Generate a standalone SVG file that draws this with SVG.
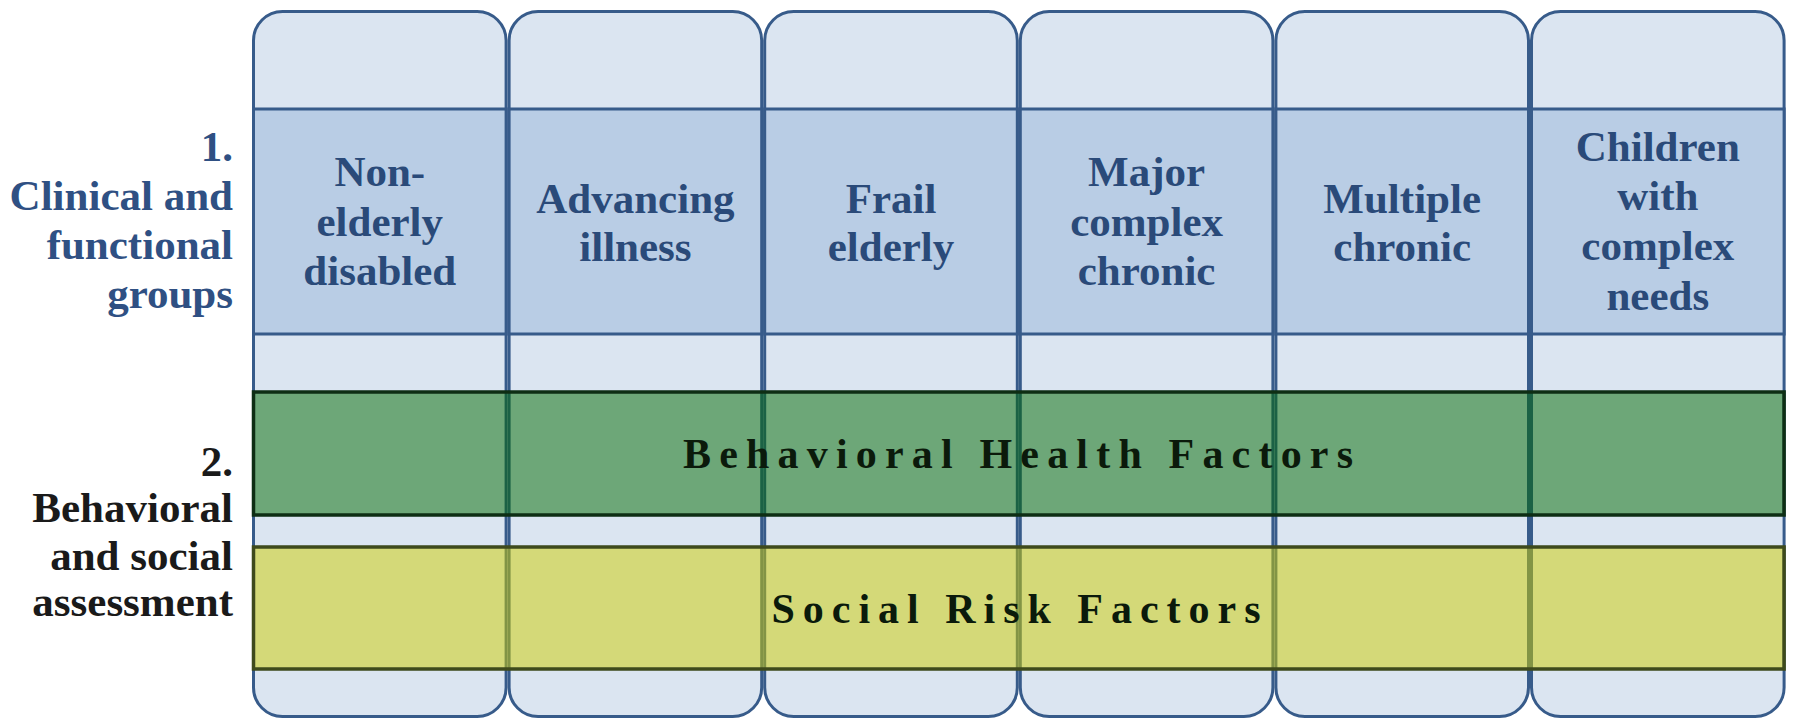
<svg xmlns="http://www.w3.org/2000/svg" width="1798" height="720" viewBox="0 0 1798 720">
<style>
.col{fill:#dbe5f1;stroke:#375b8a;stroke-width:3}
.band{fill:#b9cde5;stroke:#375b8a;stroke-width:3}
.lbl{font-family:"Liberation Serif",serif;font-weight:bold;font-size:43px;fill:#2a4a79;text-anchor:middle}
.side1{font-family:"Liberation Serif",serif;font-weight:bold;font-size:43px;fill:#2f5083;text-anchor:end}
.side2{font-family:"Liberation Serif",serif;font-weight:bold;font-size:43px;fill:#1a1a1a;text-anchor:end}
.bh{fill:#006a00;fill-opacity:0.5;stroke:#0e2e14;stroke-width:3.5}
.sr{fill:#cece00;fill-opacity:0.5;stroke:#3e4a1c;stroke-width:3.5}
.bt{font-family:"Liberation Serif",serif;font-weight:bold;font-size:42px;fill:#0b1a0b;text-anchor:middle}
</style>
<rect width="1798" height="720" fill="#ffffff"/>
<g id="side-label-1">
<text class="side1" x="233" y="161">1.</text>
<text class="side1" x="233" y="210">Clinical and</text>
<text class="side1" x="233" y="259">functional</text>
<text class="side1" x="233" y="308">groups</text>
</g>
<g id="side-label-2">
<text class="side2" x="233" y="476">2.</text>
<text class="side2" x="233" y="522">Behavioral</text>
<text class="side2" x="233" y="570">and social</text>
<text class="side2" x="233" y="616">assessment</text>
</g>
<g id="col-1">
<rect class="col" x="253.5" y="11.5" width="252.6" height="705" rx="29"/>
<rect class="band" x="253.5" y="109" width="252.6" height="225"/>
<text class="lbl" x="379.8" y="186">Non-</text>
<text class="lbl" x="379.8" y="236">elderly</text>
<text class="lbl" x="379.8" y="285">disabled</text>
</g>
<g id="col-2">
<rect class="col" x="509.1" y="11.5" width="252.6" height="705" rx="29"/>
<rect class="band" x="509.1" y="109" width="252.6" height="225"/>
<text class="lbl" x="635.4" y="213">Advancing</text>
<text class="lbl" x="635.4" y="261">illness</text>
</g>
<g id="col-3">
<rect class="col" x="764.7" y="11.5" width="252.6" height="705" rx="29"/>
<rect class="band" x="764.7" y="109" width="252.6" height="225"/>
<text class="lbl" x="891" y="213">Frail</text>
<text class="lbl" x="891" y="261">elderly</text>
</g>
<g id="col-4">
<rect class="col" x="1020.3" y="11.5" width="252.6" height="705" rx="29"/>
<rect class="band" x="1020.3" y="109" width="252.6" height="225"/>
<text class="lbl" x="1146.6" y="186">Major</text>
<text class="lbl" x="1146.6" y="236">complex</text>
<text class="lbl" x="1146.6" y="285">chronic</text>
</g>
<g id="col-5">
<rect class="col" x="1275.9" y="11.5" width="252.6" height="705" rx="29"/>
<rect class="band" x="1275.9" y="109" width="252.6" height="225"/>
<text class="lbl" x="1402.2" y="213">Multiple</text>
<text class="lbl" x="1402.2" y="261">chronic</text>
</g>
<g id="col-6">
<rect class="col" x="1531.5" y="11.5" width="252.6" height="705" rx="29"/>
<rect class="band" x="1531.5" y="109" width="252.6" height="225"/>
<text class="lbl" x="1657.8" y="161">Children</text>
<text class="lbl" x="1657.8" y="210">with</text>
<text class="lbl" x="1657.8" y="260">complex</text>
<text class="lbl" x="1657.8" y="310">needs</text>
</g>
<g id="behavioral-health-factors">
<rect class="bh" x="253.5" y="392" width="1530.6" height="123"/>
<text class="bt" x="1018" y="468" textLength="670" lengthAdjust="spacing">Behavioral Health Factors</text>
</g>
<g id="social-risk-factors">
<rect class="sr" x="253.5" y="547" width="1530.6" height="122"/>
<text class="bt" x="1016" y="623" textLength="489" lengthAdjust="spacing">Social Risk Factors</text>
</g>
<g id="connectors"></g>
</svg>
